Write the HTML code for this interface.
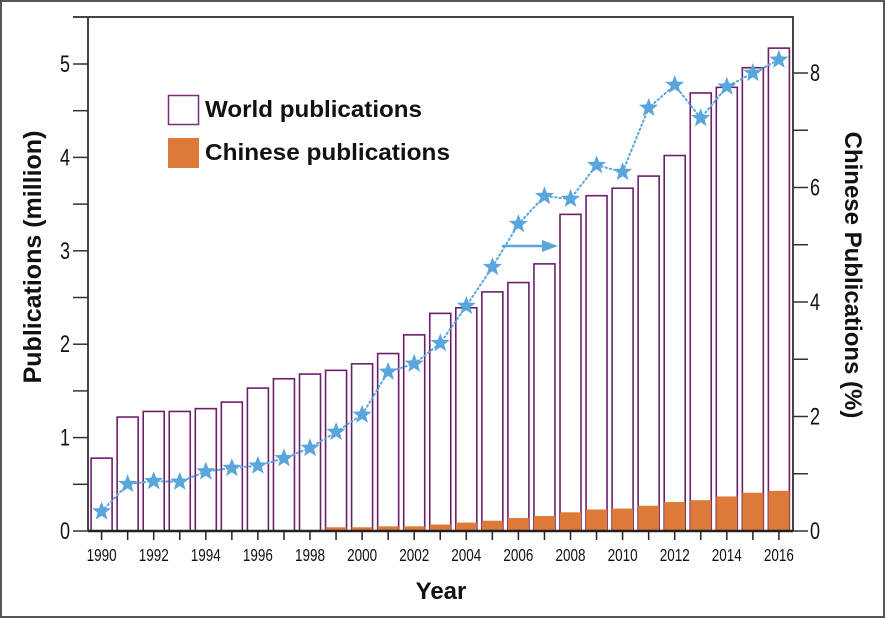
<!DOCTYPE html>
<html><head><meta charset="utf-8"><style>
html,body{margin:0;padding:0;background:#fff}
svg{display:block}
text{font-family:"Liberation Sans",sans-serif;fill:#111}
</style></head><body>
<svg id="chart" width="885" height="618" xmlns="http://www.w3.org/2000/svg">
<rect x="1" y="1" width="883" height="616" fill="#fff" stroke="#555" stroke-width="2"/>
<g id="plot"></g>
</svg>
<script>
const years=[1990,1991,1992,1993,1994,1995,1996,1997,1998,1999,2000,2001,2002,2003,2004,2005,2006,2007,2008,2009,2010,2011,2012,2013,2014,2015,2016];
const worldPubs=[0.78,1.22,1.28,1.28,1.31,1.38,1.53,1.63,1.68,1.72,1.79,1.90,2.10,2.33,2.39,2.56,2.66,2.86,3.39,3.59,3.67,3.80,4.02,4.69,4.75,4.96,5.17];
const chinesePubs=[0,0,0,0,0,0,0,0,0,0.04,0.04,0.05,0.05,0.07,0.09,0.11,0.14,0.16,0.20,0.23,0.24,0.27,0.31,0.33,0.37,0.41,0.43];
const chinesePct=[0.34,0.82,0.87,0.86,1.04,1.1,1.14,1.27,1.45,1.73,2.03,2.78,2.92,3.28,3.93,4.61,5.36,5.85,5.80,6.39,6.27,7.39,7.79,7.21,7.76,8.0,8.23];
const leftTicks=[0,1,2,3,4,5];
const rightTicks=[0,2,4,6,8];
const xLabelYears=[1990,1992,1994,1996,1998,2000,2002,2004,2006,2008,2010,2012,2014,2016];

const NS="http://www.w3.org/2000/svg";
const g=document.getElementById('plot');
const X0=88,X1=793,Y0=531,YT=17;
const xs=y=>101.6+(y-1990)*26.05;
const yl=v=>Y0-v*93.4;
const yr=v=>Y0-v*57.25;
function mk(tag,attrs,parent){const e=document.createElementNS(NS,tag);for(const k in attrs)e.setAttribute(k,attrs[k]);(parent||g).appendChild(e);return e;}

let f=mk('path',{d:`M73 ${YT} H${X1} V${Y0} M${X0} ${YT} V${Y0}`,stroke:'#444','stroke-width':2,fill:'none'});



years.forEach((yr_,i)=>{
  const cx=xs(yr_);
  const b=mk('rect',{x:cx-10.5,y:yl(worldPubs[i]),width:21,height:Y0-yl(worldPubs[i]),fill:'#fff',stroke:'#6b1f6b','stroke-width':1.6});
  
  
  if(chinesePubs[i]>0){
    const c=mk('rect',{x:cx-10.5,y:yl(chinesePubs[i]),width:21,height:Y0-yl(chinesePubs[i]),fill:'#dd7a38'});
    
    
  }
});

let ax=mk('line',{x1:X0,x2:X1,y1:Y0,y2:Y0,stroke:'#222','stroke-width':2.5});


years.forEach(y=>{mk('line',{x1:xs(y),x2:xs(y),y1:Y0,y2:Y0+9,stroke:'#222','stroke-width':1.5});});
xLabelYears.forEach(y=>{
  const t=mk('text',{x:0,y:0,'font-size':18,'text-anchor':'middle',transform:`translate(${xs(y)},561) scale(0.75,1)`});
  t.textContent=y;
  
  
});

for(let v=0;v<=5;v+=0.5){mk('line',{x1:73,x2:X0,y1:yl(v),y2:yl(v),stroke:'#333','stroke-width':1.5});}
leftTicks.forEach(v=>{
  const t=mk('text',{x:0,y:0,'font-size':24,'text-anchor':'end',transform:`translate(70,${yl(v)+8}) scale(0.75,1)`});
  t.textContent=v;
  
  
});
for(let v=0;v<=8;v+=1){mk('line',{x1:X1,x2:808,y1:yr(v),y2:yr(v),stroke:'#333','stroke-width':1.5});}
rightTicks.forEach(v=>{
  const t=mk('text',{x:0,y:0,'font-size':24,'text-anchor':'start',transform:`translate(810,${yr(v)+8}) scale(0.75,1)`});
  t.textContent=v;
  
  
});

const pts=years.map((y,i)=>xs(y)+','+yr(chinesePct[i])).join(' ');
let pl=mk('polyline',{points:pts,fill:'none',stroke:'#5aa6dc','stroke-width':2,'stroke-dasharray':'1.5 3','stroke-linecap':'round'});


function star(cx,cy,r){let p=[];for(let k=0;k<10;k++){const a=-Math.PI/2+k*Math.PI/5;const rr=k%2?r*0.42:r;p.push((cx+rr*Math.cos(a)).toFixed(1)+','+(cy+rr*Math.sin(a)).toFixed(1));}return p.join(' ');}
years.forEach((y,i)=>{
  const s=mk('polygon',{points:star(xs(y),yr(chinesePct[i]),10),fill:'#5aa6dc'});
  
  
});

let ar=mk('g',{});


mk('line',{x1:502,x2:545,y1:246,y2:246,stroke:'#5aa6dc','stroke-width':2.5},ar);
mk('polygon',{points:'558,246 542,240 542,252',fill:'#5aa6dc'},ar);

let lg=mk('g',{});


mk('rect',{x:168.5,y:95.5,width:30,height:29,fill:'#fff',stroke:'#7a2a7a','stroke-width':1.5},lg);
let t1=mk('text',{x:205,y:117,'font-size':23,'font-weight':'bold',textLength:217,lengthAdjust:'spacingAndGlyphs'},lg);t1.textContent='World publications';
mk('rect',{x:168,y:138,width:31,height:30,fill:'#dd7a38'},lg);
let t2=mk('text',{x:205,y:160,'font-size':23,'font-weight':'bold',textLength:245,lengthAdjust:'spacingAndGlyphs'},lg);t2.textContent='Chinese publications';

let xt=mk('text',{x:441,y:599,'font-size':24,'font-weight':'bold','text-anchor':'middle'});
xt.textContent='Year';


let ytl=mk('text',{x:0,y:0,'font-size':25,'font-weight':'bold','text-anchor':'middle',transform:'translate(41,257) rotate(-90)'});
ytl.textContent='Publications (million)';


let ytr=mk('text',{x:0,y:0,'font-size':24,'font-weight':'bold','text-anchor':'middle',transform:'translate(845,275) rotate(90)'});
ytr.textContent='Chinese Publications  (%)';
ytr.setAttribute('xml:space','preserve');


</script>
</body></html>
